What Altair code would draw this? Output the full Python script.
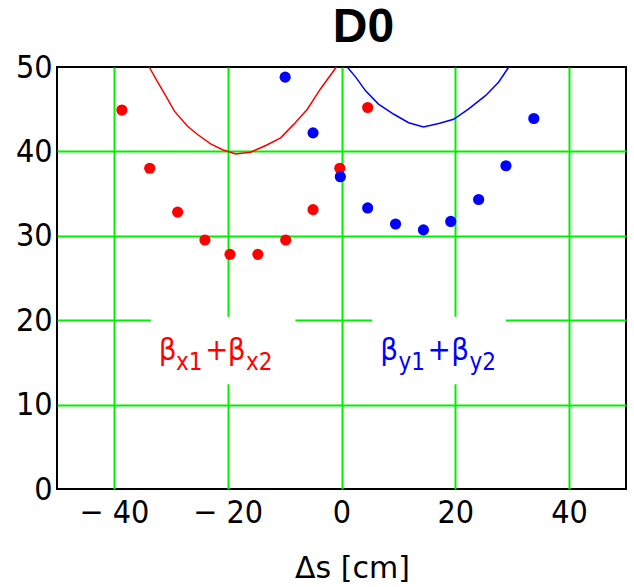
import altair as alt
import pandas as pd

# measured points
red_x = [-38.6, -33.7, -28.8, -24.0, -19.6, -14.7, -9.8, -5.0, -0.3, 4.6]
red_y = [44.9, 38.0, 32.8, 29.5, 27.8, 27.8, 29.5, 33.1, 38.0, 45.2]
blue_x = [-9.9, -5.0, -0.2, 4.6, 9.5, 14.4, 19.2, 24.1, 28.9, 33.8]
blue_y = [48.8, 42.2, 37.0, 33.3, 31.4, 30.7, 31.7, 34.3, 38.3, 43.9]

# computed curves
red_curve_x = [-33.8, -32.3, -30.9, -29.4, -27.1, -25.3, -23.0, -20.9, -18.6, -16.0,
               -13.3, -10.7, -8.4, -6.0, -3.7, -0.9]
red_curve_y = [50.0, 48.2, 46.6, 44.8, 43.0, 42.0, 40.9, 40.2, 39.7, 39.9,
               40.7, 41.6, 43.2, 45.0, 47.4, 50.0]
blue_curve_x = [1.0, 2.5, 4.2, 6.5, 9.2, 11.8, 14.4, 17.1, 19.7, 22.3, 25.3, 27.6, 29.4]
blue_curve_y = [50.0, 48.8, 47.2, 45.6, 44.4, 43.4, 42.9, 43.3, 43.8, 45.0, 46.6, 48.2, 50.0]

x_ticks = [-40, -20, 0, 20, 40]
y_ticks = [0, 10, 20, 30, 40, 50]

# label annotations
box_x1 = [-33.5, 5.4]
box_x2 = [-8.1, 28.9]
box_y1 = [12.4, 12.4]
box_y2 = [20.4, 20.4]
label_text = ["β", "x1", "+", "β", "x2", "β", "y1", "+", "β", "y2"]
label_x = [-32.1, -29.1, -24.0, -20.0, -16.8, 6.8, 10.0, 15.1, 19.3, 22.5]
label_y = [15.3, 14.1, 15.3, 15.3, 14.1, 15.3, 14.1, 15.3, 15.3, 14.1]
label_size = [31, 24, 31, 31, 24, 31, 24, 31, 31, 24]
label_color = ["#ff0000"] * 5 + ["#0000ff"] * 5

RED = "#ff0000"
BLUE = "#0000ff"
GREEN = "#00f000"
NARROW = "DejaVu Sans Condensed, Liberation Sans Narrow, sans-serif"

red_pts = pd.DataFrame({"x": red_x, "y": red_y})
blue_pts = pd.DataFrame({"x": blue_x, "y": blue_y})
red_cur = pd.DataFrame({"x": red_curve_x, "y": red_curve_y, "i": range(len(red_curve_x))})
blue_cur = pd.DataFrame({"x": blue_curve_x, "y": blue_curve_y, "i": range(len(blue_curve_x))})
boxes = pd.DataFrame({"x1": box_x1, "x2": box_x2, "y1": box_y1, "y2": box_y2})
labels = pd.DataFrame({"t": label_text, "x": label_x, "y": label_y,
                       "s": label_size, "c": label_color})

xscale = alt.Scale(domain=[-50, 50], nice=False, zero=False)
yscale = alt.Scale(domain=[0, 50], nice=False)

xaxis = alt.Axis(
    values=x_ticks, grid=True, ticks=False, domain=False,
    gridColor=GREEN, gridWidth=2,
    labelFont=NARROW, labelFontSize=32, labelColor="black", labelPadding=8,
    labelExpr="datum.value < 0 ? '\u2212 ' + abs(datum.value) : datum.label",
    title="Δs [cm]", titleFont="DejaVu Sans", titleFontSize=30,
    titleFontWeight="normal", titleColor="black",
    titleX=295, titleY=88, titleBaseline="alphabetic", titleAlign="center",
)
yaxis = alt.Axis(
    values=y_ticks, grid=True, ticks=False, domain=False,
    gridColor=alt.condition("datum.value == 0 || datum.value == 50",
                            alt.value("transparent"), alt.value(GREEN)),
    gridWidth=2,
    labelFont=NARROW, labelFontSize=32, labelColor="black", labelPadding=5,
    title=None,
)

box_layer = alt.Chart(boxes).mark_rect(fill="white").encode(
    x=alt.X("x1:Q", scale=xscale, axis=xaxis),
    x2="x2:Q",
    y=alt.Y("y1:Q", scale=yscale, axis=yaxis),
    y2="y2:Q",
)

red_line = alt.Chart(red_cur).mark_line(color=RED, strokeWidth=1.5).encode(
    x="x:Q", y="y:Q", order="i:Q")
blue_line = alt.Chart(blue_cur).mark_line(color=BLUE, strokeWidth=1.5).encode(
    x="x:Q", y="y:Q", order="i:Q")

red_dots = alt.Chart(red_pts).mark_circle(color=RED, size=125, opacity=1).encode(
    x="x:Q", y="y:Q")
blue_dots = alt.Chart(blue_pts).mark_circle(color=BLUE, size=125, opacity=1).encode(
    x="x:Q", y="y:Q")

text_layer = alt.Chart(labels).mark_text(
    align="left", baseline="alphabetic", font=NARROW
).encode(
    x="x:Q", y="y:Q", text="t:N",
    size=alt.Size("s:Q", scale=None, legend=None),
    color=alt.Color("c:N", scale=None, legend=None),
)

chart = alt.layer(
    box_layer, red_line, blue_line, red_dots, blue_dots, text_layer
).properties(
    width=569, height=422,
    title=alt.TitleParams("D0", font="Liberation Sans", fontSize=48, fontWeight="bold",
                          color="black", anchor="middle", dx=22, offset=-39,
                          frame="group", baseline="alphabetic"),
    autosize=alt.AutoSizeParams(type="none"),
    padding={"left": 57, "top": 67, "right": 8, "bottom": 98},
    background="white",
).configure_view(stroke="black", strokeWidth=2)

chart.save("out.html", embed_options={"renderer": "svg", "actions": False})
